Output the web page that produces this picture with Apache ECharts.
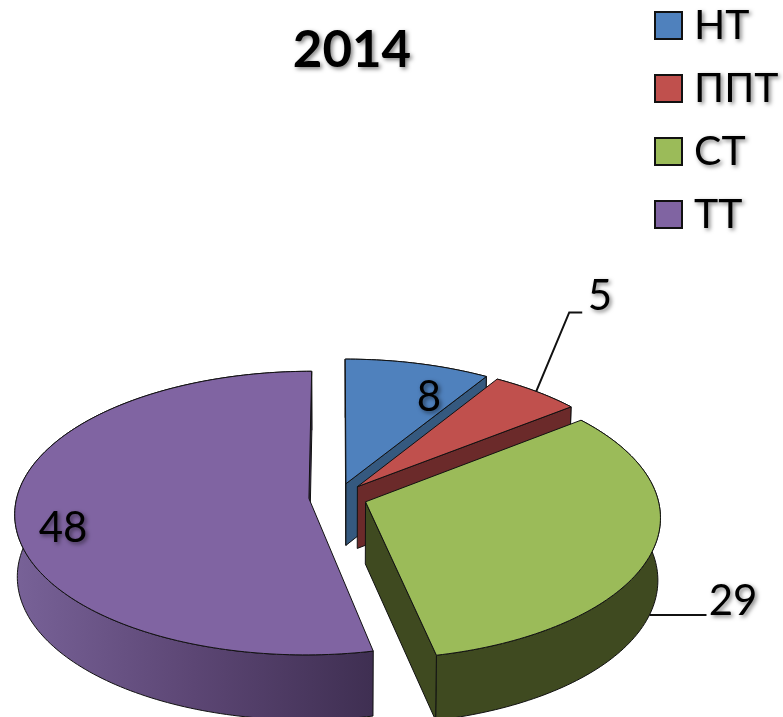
<!DOCTYPE html>
<html>
<head>
<meta charset="utf-8">
<style>
  html, body { margin: 0; background: #fff; }
  #chart { width: 783px; height: 717px; }
</style>
<script src="https://cdn.jsdelivr.net/npm/echarts@6/dist/echarts.min.js"></script>
</head>
<body>
<div id="chart"></div>
<script>
const chartTitle = '2014';
const categories = ['НТ', 'ППТ', 'СТ', 'ТТ'];
const values = [8, 5, 29, 48];
const topColors = ['#4f81bd', '#c0504d', '#9bbb59', '#8064a2'];
const sideColors = ['#35597f', '#6b2a2a', '#3f4a20', null];
const labelSpots = [[429, 397], [600, 296], [733, 601], [63, 528]];

// Наклонный круг: перспектива, как в 3D-диаграмме Excel
const pie = { cx: 338, cy: 497, rx: 292, ry: 140, persp: 0.103, explode: 0.1, depth: 62, shrink: 0.992 };
const total = values.reduce((a, b) => a + b, 0);

function project(u, v) {
  const s = 1 / (1 - pie.persp * v);
  return [pie.cx + pie.rx * u * s, pie.cy + pie.ry * v * s];
}
function lower(p, v) {
  return [pie.cx + (p[0] - pie.cx) * pie.shrink, p[1] + pie.depth + 3 * v];
}
function sliceGeometry(index) {
  let before = 0;
  for (let i = 0; i < index; i++) before += values[i];
  const a0 = before / total * Math.PI * 2;
  const a1 = (before + values[index]) / total * Math.PI * 2;
  const mid = (a0 + a1) / 2;
  const ox = pie.explode * Math.sin(mid), oy = -pie.explode * Math.cos(mid);
  const rim = [];
  const steps = Math.ceil((a1 - a0) / 0.02);
  for (let i = 0; i <= steps; i++) {
    const a = a0 + (a1 - a0) * i / steps;
    const v = oy - Math.cos(a);
    rim.push({ p: project(ox + Math.sin(a), v), v: v });
  }
  const midV = oy - Math.cos(mid);
  return { apex: project(ox, oy), apexV: oy, rim: rim, midTop: project(ox + Math.sin(mid), midV), midV: midV };
}
// Грань видна, только если сдвиг вниз уводит её наружу из сектора
function faceVisible(apex, edge, inner) {
  const ex = edge[0] - apex[0], ey = edge[1] - apex[1];
  const side = ex * (inner[1] - apex[1]) - ey * (inner[0] - apex[0]);
  return side * ex < 0;
}

function renderSlice(params, api) {
  const index = api.value(0);
  const g = sliceGeometry(index);
  const sideFill = sideColors[index] || new echarts.graphic.LinearGradient(14, 0, 373, 0, [
    { offset: 0, color: '#786298' },
    { offset: 0.5, color: '#5c4674' },
    { offset: 1, color: '#3f2f52' }
  ], true);
  const border = { stroke: '#111', lineWidth: 1, lineJoin: 'round' };
  const side = (points) => ({
    type: 'polygon',
    shape: { points: points },
    style: Object.assign({ fill: sideFill }, border)
  });
  const apexLow = lower(g.apex, g.apexV);
  const children = [
    side(g.rim.map(r => r.p).concat(g.rim.slice().reverse().map(r => lower(r.p, r.v))))
  ];
  [g.rim[0], g.rim[g.rim.length - 1]].forEach(r => {
    if (faceVisible(g.apex, r.p, g.midTop)) {
      children.push(side([g.apex, r.p, lower(r.p, r.v), apexLow]));
    }
  });
  children.push({
    type: 'polygon',
    shape: { points: [g.apex].concat(g.rim.map(r => r.p)) },
    style: Object.assign({ fill: topColors[index] }, border)
  });
  // Линии-выноски к подписям 5 и 29
  if (index === 1) {
    const s = g.midTop;
    children.push({
      type: 'polyline',
      shape: { points: [s, [s[0] + 33, s[1] - 79], [s[0] + 46, s[1] - 79]] },
      style: { stroke: '#111', lineWidth: 2, fill: null }
    });
  }
  if (index === 2) {
    const s = lower(g.midTop, g.midV);
    children.push({
      type: 'line',
      shape: { x1: s[0], y1: s[1], x2: s[0] + 57, y2: s[1] },
      style: { stroke: '#111', lineWidth: 2 }
    });
  }
  children.push({
    type: 'text',
    style: {
      text: String(values[index]),
      x: labelSpots[index][0],
      y: labelSpots[index][1],
      align: 'center',
      verticalAlign: 'middle',
      font: '42px Lato',
      fill: '#000',
      textShadowColor: 'rgba(0,0,0,0.5)',
      textShadowBlur: 4,
      textShadowOffsetX: 2,
      textShadowOffsetY: 2
    }
  });
  return { type: 'group', children: children };
}

const chart = echarts.init(document.getElementById('chart'), null, { renderer: 'canvas' });
chart.setOption({
  animation: false,
  title: {
    text: chartTitle,
    left: 347,
    top: 20,
    textAlign: 'center',
    textStyle: {
      fontFamily: 'Lato',
      fontWeight: 'bold',
      fontSize: 51,
      color: '#000',
      textShadowColor: 'rgba(0,0,0,0.5)',
      textShadowBlur: 4,
      textShadowOffsetX: 2,
      textShadowOffsetY: 2
    }
  },
  legend: {
    orient: 'vertical',
    left: 654,
    top: 5,
    padding: 0,
    itemWidth: 27,
    itemHeight: 27,
    itemGap: 22,
    icon: 'rect',
    data: categories,
    itemStyle: { borderColor: '#111', borderWidth: 2 },
    textStyle: {
      fontFamily: 'Lato',
      fontSize: 41,
      lineHeight: 27,
      padding: [0, 0, 0, 7],
      color: '#000',
      textShadowColor: 'rgba(0,0,0,0.5)',
      textShadowBlur: 4,
      textShadowOffsetX: 2,
      textShadowOffsetY: 2
    }
  },
  series: categories.map((name, i) => ({
    type: 'custom',
    name: name,
    coordinateSystem: 'none',
    silent: true,
    z: 2 + i,
    itemStyle: { color: topColors[i] },
    renderItem: renderSlice,
    data: [[i, values[i]]]
  }))
});
</script>
</body>
</html>
